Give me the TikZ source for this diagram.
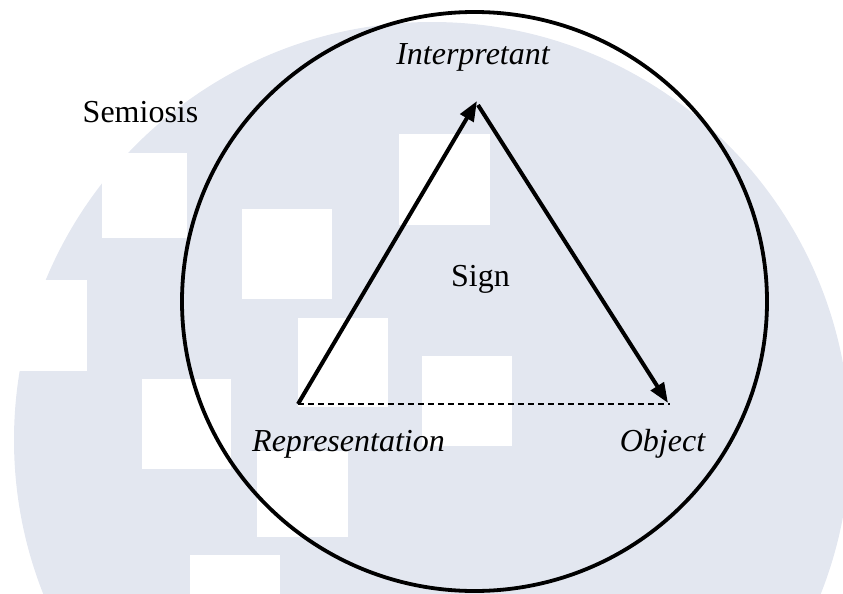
\documentclass[tikz,border=0pt]{standalone}
\usepackage{fontspec}
\setmainfont{Liberation Serif}
\usetikzlibrary{arrows.meta}
\definecolor{bgc}{RGB}{227,231,240}
\tikzset{
  lbl/.style={inner sep=0pt, anchor=base, font=\fontsize{32}{38}\selectfont},
  ilbl/.style={lbl, font=\fontsize{32}{38}\selectfont\itshape},
  wsq/.style={fill=white},
  tipA/.tip={Triangle[length=20pt,width=15pt]},
  arr/.style={line width=4pt, -tipA},
  dsh/.style={line width=2.2pt, dash pattern=on 6pt off 4pt},
}
\begin{document}
\begin{tikzpicture}[x=1pt,y=-1pt]
\useasboundingbox (0,0) rectangle (843,594);
\begin{scope}
\clip (0,0) rectangle (843,594);
\fill[bgc] (432,440) circle (418);
\fill[wsq] (102,153) rectangle (187,238);
\fill[wsq] (-5,280) rectangle (87,371);
\fill[wsq] (142,379) rectangle (231,469);
\fill[wsq] (190,555) rectangle (280,600);
\fill[wsq] (242,209) rectangle (332,299);
\fill[wsq] (298,318) rectangle (388,407);
\fill[wsq] (257,451) rectangle (348,537);
\fill[wsq] (399,134) rectangle (490,225);
\fill[wsq] (422,356) rectangle (512,446);
\end{scope}
\draw[line width=3.8pt] (474.5,301.5) ellipse [x radius=292.5, y radius=289.5];
\coordinate (rep) at (298,404);
\coordinate (int) at (477,101);
\coordinate (ints) at (478,105);
\coordinate (obj) at (668,403);
\coordinate (objd) at (670,404);
\draw[arr] (rep) -- (int);
\draw[arr] (ints) -- (obj);
\draw[dsh] (rep) -- (objd);
\node[lbl] (semiosis) at (140.5,122) {Semiosis};
\node[ilbl] (interp) at (473,64) {Interpretant};
\node[lbl] (sign) at (480.5,286) {Sign};
\node[ilbl] (repr) at (348.5,451) {Representation};
\node[ilbl] (object) at (662.5,451) {Object};
\end{tikzpicture}
\end{document}
